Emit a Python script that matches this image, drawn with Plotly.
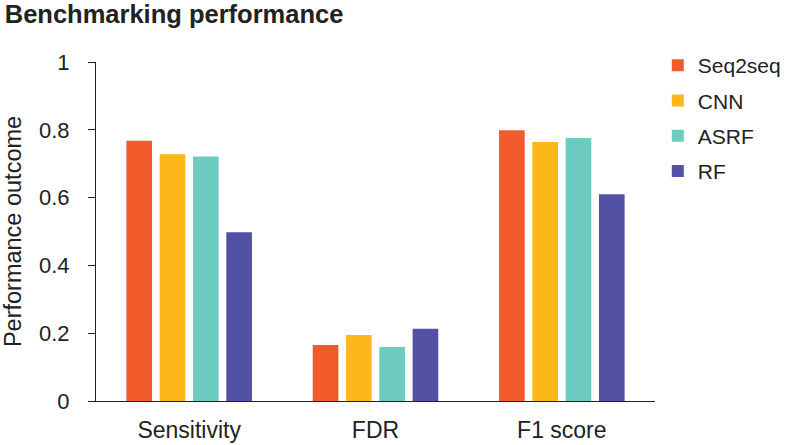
import plotly.graph_objects as go

# Benchmarking bar chart: four models across three metrics
metrics = ["Sensitivity", "FDR", "F1 score"]
models = ["Seq2seq", "CNN", "ASRF", "RF"]
seq2seq = [0.768, 0.165, 0.799]
cnn = [0.728, 0.195, 0.764]
asrf = [0.721, 0.159, 0.776]
rf = [0.498, 0.213, 0.610]
colors = ["#F15A2B", "#FDB71A", "#6ECBBF", "#5351A3"]

fig = go.Figure()
for i, (name, vals) in enumerate(zip(models, [seq2seq, cnn, asrf, rf])):
    fig.add_trace(go.Bar(x=metrics, y=vals, name=name, marker_color=colors[i],
                         marker_line_width=0, legendgroup=name))

fig.update_layout(
    width=787, height=445,
    template="simple_white",
    font=dict(family="Liberation Sans, Arial, sans-serif", size=21, color="#222222"),
    title=dict(text="<b>Benchmarking performance</b>", x=0.006, xanchor="left",
               y=0.968, yanchor="middle", font=dict(size=25.5, color="#222222")),
    # legend sits in the right margin; don't let it shrink the plot area
    margin=dict(l=96, r=132, t=62, b=44, autoexpand=False),
    barmode="group", bargap=0.285, bargroupgap=0.23,
    legend=dict(x=1.005, y=1.05, xanchor="left", yanchor="top",
                traceorder="grouped", tracegroupgap=5,
                font=dict(size=21), itemwidth=30),
    showlegend=True,
)
fig.update_yaxes(range=[0, 1], tickvals=[0, 0.2, 0.4, 0.6, 0.8, 1],
                 ticktext=["0", "0.2", "0.4", "0.6", "0.8", "1"],
                 ticks="outside", ticklen=7, tickcolor="#222222",
                 showline=True, linecolor="#222222", linewidth=1,
                 tickfont=dict(size=22), ticklabelstandoff=14, automargin=False,
                 title=dict(text="Performance outcome", font=dict(size=23.5), standoff=18),
                 showgrid=False, zeroline=False)
fig.update_xaxes(ticks="", showline=True, linecolor="#222222", linewidth=1,
                 tickfont=dict(size=23), ticklabelstandoff=8, automargin=False)

# drop the page's default body margin so the figure sits at the window's corner
fig.write_html("out.html", config={"displayModeBar": False},
               post_script="document.body.style.margin='0';")
